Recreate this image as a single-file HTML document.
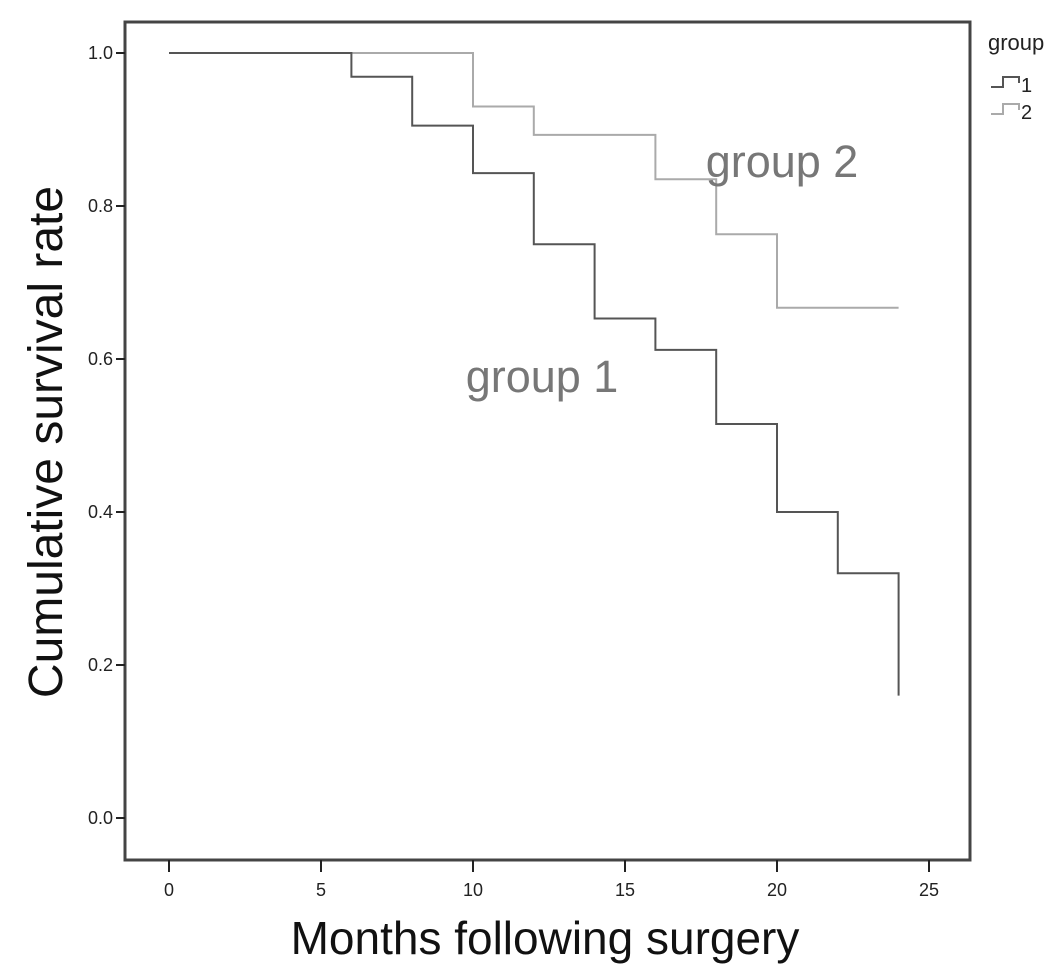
<!DOCTYPE html>
<html><head><meta charset="utf-8"><style>
body{margin:0;background:#fff;}
svg{display:block;font-family:"Liberation Sans",sans-serif;}
</style></head><body>
<svg id="chart" width="1063" height="969">
<rect x="125" y="22" width="845" height="838" fill="none" stroke="#444" stroke-width="3"/>
<g id="axes"></g><g id="series"></g>
<text x="782" y="177" font-size="45" fill="#777" text-anchor="middle">group 2</text>
<text x="542" y="392" font-size="45" fill="#777" text-anchor="middle">group 1</text>
<text transform="translate(62,442) rotate(-90)" font-size="48" fill="#111" text-anchor="middle">Cumulative survival rate</text>
<text x="545" y="954" font-size="46" fill="#111" text-anchor="middle">Months following surgery</text>
<g>
<text x="988" y="50" font-size="22" fill="#222">group</text>
<path d="M991 87h12v-10h16v6" fill="none" stroke="#555" stroke-width="2"/>
<text x="1021" y="92" font-size="20" fill="#222">1</text>
<path d="M991 114h12v-10h16v6" fill="none" stroke="#aaa" stroke-width="2"/>
<text x="1021" y="119" font-size="20" fill="#222">2</text>
</g>
</svg>
<script>
const xTicks=[0,5,10,15,20,25];
const yTicks=[0,0.2,0.4,0.6,0.8,1.0];
const g1Times=[0,6,8,10,12,14,16,18,20,22,24];
const g1Vals=[1.0,0.969,0.905,0.843,0.75,0.653,0.612,0.515,0.40,0.32,0.16];
const g2Times=[0,10,12,16,18,20,24];
const g2Vals=[1.0,0.93,0.893,0.835,0.763,0.667,0.667];
const NS="http://www.w3.org/2000/svg";
const xs=t=>169+t*30.4;
const ys=v=>818-v*765;
const axes=document.getElementById('axes');
function mk(tag,attrs,parent){const e=document.createElementNS(NS,tag);for(const k in attrs)e.setAttribute(k,attrs[k]);parent.appendChild(e);return e;}
xTicks.forEach(t=>{
  const l=mk('line',{x1:xs(t),x2:xs(t),y1:860,y2:872,stroke:'#222','stroke-width':2},axes);
  
  
  const tx=mk('text',{x:xs(t),y:896,'font-size':18,fill:'#222','text-anchor':'middle'},axes);
  tx.textContent=t;
  
  
});
yTicks.forEach(v=>{
  const l=mk('line',{x1:116,x2:125,y1:ys(v),y2:ys(v),stroke:'#222','stroke-width':2},axes);
  
  
  const tx=mk('text',{x:113,y:ys(v)+6,'font-size':18,fill:'#222','text-anchor':'end'},axes);
  tx.textContent=v.toFixed(1);
  
  
});
function stepPath(ts,vs){let d='M'+xs(ts[0])+' '+ys(vs[0]);for(let i=1;i<ts.length;i++){d+=' H'+xs(ts[i])+' V'+ys(vs[i]);}return d;}
const ser=document.getElementById('series');
const p2=mk('path',{d:stepPath(g2Times,g2Vals),fill:'none',stroke:'#aaa','stroke-width':2},ser);


const p1=mk('path',{d:stepPath(g1Times,g1Vals),fill:'none',stroke:'#555','stroke-width':2},ser);


</script>
</body></html>
